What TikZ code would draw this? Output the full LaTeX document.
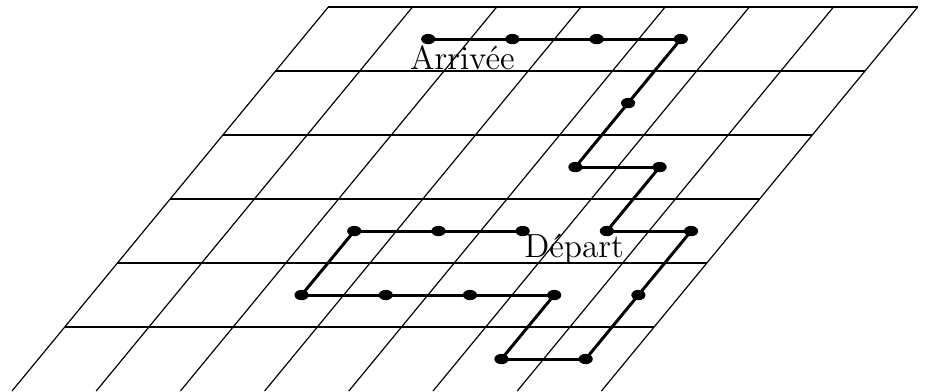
\documentclass[tikz,border=0pt]{standalone}
\usetikzlibrary{shapes.geometric}
\begin{document}
\begin{tikzpicture}
		[x={(1cm,0cm)},y={(0.626cm,0.76cm)},
		gridline/.style={black,line width=0.4pt},
		dot/.style={ellipse,fill=black,draw=none,inner sep=0pt,minimum width=4.8pt,minimum height=3.5pt},
		route/.style={black,line width=1pt},
		textstyle/.style={anchor=base,font=\fontsize{11.3}{13}\selectfont}]
		\useasboundingbox (-0.1425cm,0cm) rectangle (10.843cm,4.644cm);
		% the slanted grid
		\foreach \j in {1,...,6}
			\draw[gridline] (0,\j) -- (7,\j);
		\foreach \i in {0,...,7}
			\draw[gridline] (\i,0) -- (\i,6);
		% the walk, from start to finish
		\foreach \pos [count=\n] in {(4.5,2.5),(3.5,2.5),(2.5,2.5),(2.5,1.5),(3.5,1.5),(4.5,1.5),(5.5,1.5),
			(5.5,0.5),(6.5,0.5),(6.5,1.5),(6.5,2.5),(5.5,2.5),(5.5,3.5),(4.5,3.5),(4.5,4.5),(4.5,5.5),
			(3.5,5.5),(2.5,5.5),(1.5,5.5)}
			\node[dot] (p\n) at \pos {};
		\foreach \n [evaluate=\n as \m using int(\n+1)] in {1,...,18}
			\draw[route] (p\n.center) -- (p\m.center);
		\node[textstyle] (depart) at (5.37,2.086) {Départ};
		\node[textstyle] (arrivee) at (2.20,5.03) {Arrivée};
	\end{tikzpicture}
\end{document}
